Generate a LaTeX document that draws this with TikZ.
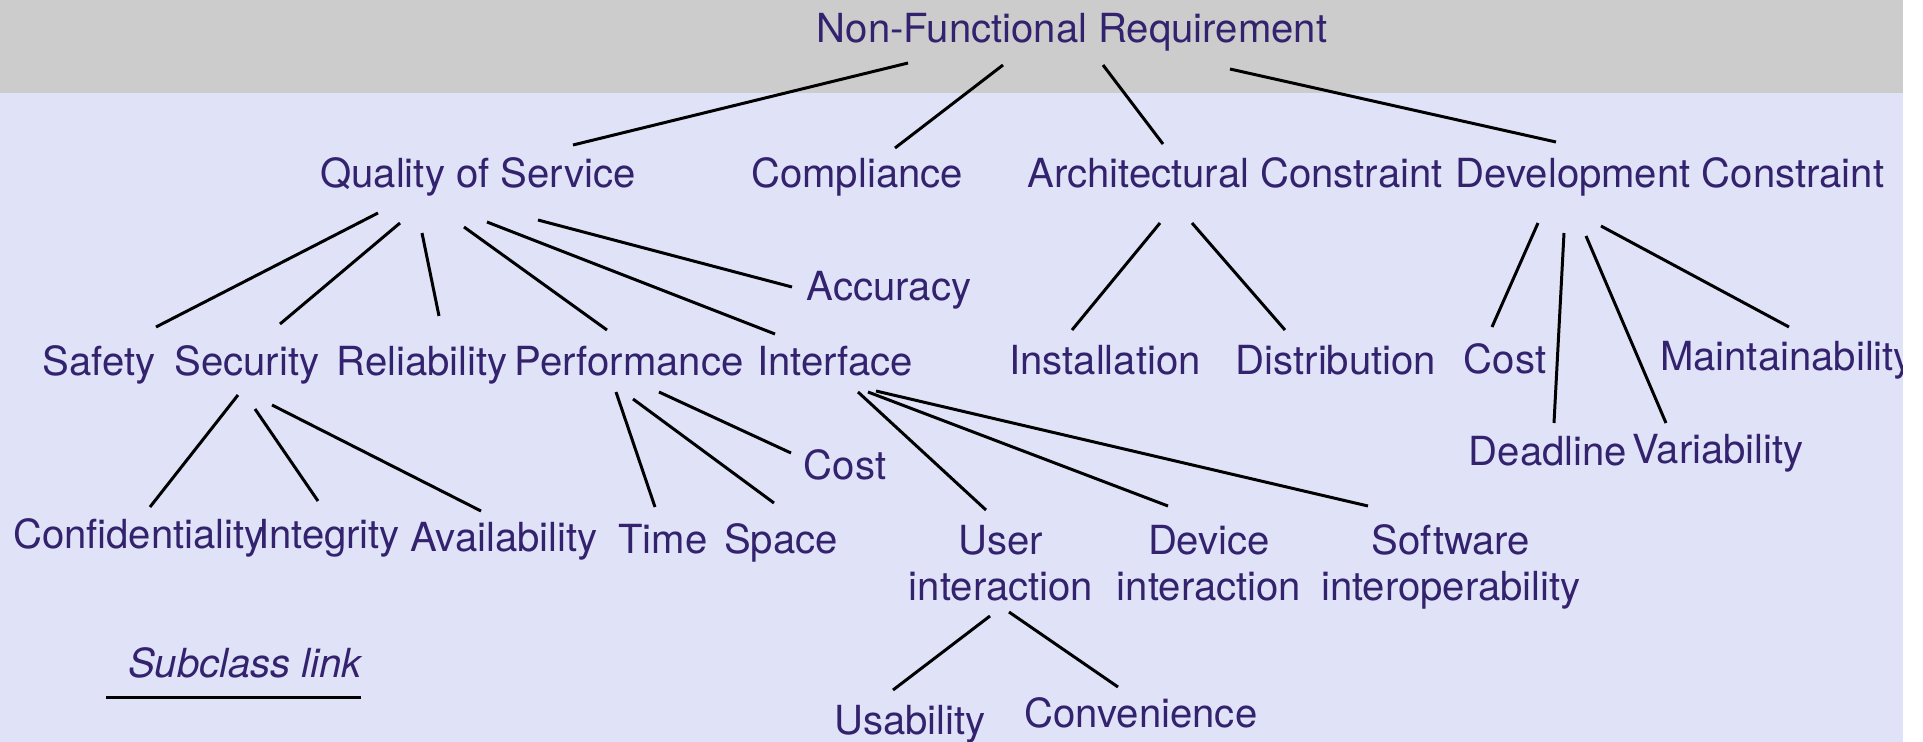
\documentclass[tikz,border=0pt]{standalone}
\usepackage{fontspec}
\setmainfont{TeX Gyre Heros}
\usepackage{xcolor}
\usepackage{tikz}

\definecolor{labelink}{RGB}{51,34,110}
\definecolor{bandgray}{RGB}{204,204,204}
\definecolor{paneblue}{RGB}{224,227,247}

\begin{document}
\begin{tikzpicture}[x=0.01cm,y=-0.01cm,
    req node/.style={anchor=base,inner sep=0pt,text=labelink,align=center,
      font=\fontsize{11.4}{12.8}\selectfont},
    link/.style={draw=black,line width=0.85pt}]
  \useasboundingbox (0,0) rectangle (1923,742);
  \fill[bandgray] (0,0) rectangle (1903,93);
  \fill[paneblue] (0,93) rectangle (1903,742);

  % top and first level
  \node[req node] (nfr) at (1072,42) {Non-Functional Requirement};
  \node[req node] (qos) at (478,187) {Quality of Service};
  \node[req node] (compliance) at (857,187) {Compliance};
  \node[req node] (arch) at (1235,187) {Architectural Constraint};
  \node[req node] (dev) at (1670,187) {Development Constraint};

  % second level
  \node[req node] (accuracy) at (889,300) {Accuracy};
  \node[req node] (safety) at (99,375) {Safety};
  \node[req node] (security) at (247,375) {Security};
  \node[req node] (reliability) at (422,375) {Reliability};
  \node[req node] (performance) at (629,375) {Performance};
  \node[req node] (interface) at (835,375) {Interface};
  \node[req node] (installation) at (1105,374) {Installation};
  \node[req node] (distribution) at (1336,374) {Distribution};
  \node[req node] (devcost) at (1505,373) {Cost};
  \node[req node] (maintainability) at (1787,370) {Maintainability};
  \node[req node] (deadline) at (1548,465) {Deadline};
  \node[req node] (variability) at (1718,463) {Variability};

  % third level (two-line nodes sit on their last line)
  \node[req node] (perfcost) at (845,479) {Cost};
  \node[req node] (confidentiality) at (139,548) {Confidentiality};
  \node[req node] (integrity) at (329,548) {Integrity};
  \node[req node] (availability) at (504,551) {Availability};
  \node[req node] (time) at (663,553) {Time};
  \node[req node] (space) at (781,553) {Space};
  \node[req node] (user) at (1001,600) {User\\interaction};
  \node[req node] (device) at (1209,600) {Device\\interaction};
  \node[req node] (software) at (1451,600) {Software\\interoperability};
  \node[req node] (usability) at (910,734) {Usability};
  \node[req node] (convenience) at (1141,727) {Convenience};

  % legend
  \node[req node] (subclass) at (245,677) {\itshape Subclass link};

  \path[link]
    ([shift={(-164,21)}]nfr.base) edge ([shift={(95,-42)}]qos.base)
    ([shift={(-69,23)}]nfr.base) edge ([shift={(38,-39)}]compliance.base)
    ([shift={(31,23)}]nfr.base) edge ([shift={(-72,-43)}]arch.base)
    ([shift={(158,27)}]nfr.base) edge ([shift={(-114,-45)}]dev.base)
    ([shift={(-100,26)}]qos.base) edge ([shift={(57,-48)}]safety.base)
    ([shift={(-78,36)}]qos.base) edge ([shift={(33,-51)}]security.base)
    ([shift={(-56,46)}]qos.base) edge ([shift={(17,-59)}]reliability.base)
    ([shift={(-14,40)}]qos.base) edge ([shift={(-22,-45)}]performance.base)
    ([shift={(9,35)}]qos.base) edge ([shift={(-60,-41)}]interface.base)
    ([shift={(60,33)}]qos.base) edge ([shift={(-97,-13)}]accuracy.base)
    ([shift={(-75,36)}]arch.base) edge ([shift={(-33,-44)}]installation.base)
    ([shift={(-43,36)}]arch.base) edge ([shift={(-51,-44)}]distribution.base)
    ([shift={(-132,36)}]dev.base) edge ([shift={(-13,-46)}]devcost.base)
    ([shift={(-106,46)}]dev.base) edge ([shift={(6,-42)}]deadline.base)
    ([shift={(-84,49)}]dev.base) edge ([shift={(-52,-40)}]variability.base)
    ([shift={(-69,39)}]dev.base) edge ([shift={(2,-43)}]maintainability.base)
    ([shift={(-9,20)}]security.base) edge ([shift={(11,-41)}]confidentiality.base)
    ([shift={(8,34)}]security.base) edge ([shift={(-11,-47)}]integrity.base)
    ([shift={(25,30)}]security.base) edge ([shift={(-23,-40)}]availability.base)
    ([shift={(-13,17)}]performance.base) edge ([shift={(-8,-46)}]time.base)
    ([shift={(4,24)}]performance.base) edge ([shift={(-7,-50)}]space.base)
    ([shift={(30,17)}]performance.base) edge ([shift={(-54,-26)}]perfcost.base)
    ([shift={(23,17)}]interface.base) edge ([shift={(-15,-90)}]user.base)
    ([shift={(33,17)}]interface.base) edge ([shift={(-41,-94)}]device.base)
    ([shift={(41,16)}]interface.base) edge ([shift={(-83,-94)}]software.base)
    ([shift={(-11,16)}]user.base) edge ([shift={(-17,-44)}]usability.base)
    ([shift={(8,12)}]user.base) edge ([shift={(-23,-40)}]convenience.base)
    ([shift={(-139,20)}]subclass.base) edge ([shift={(116,20)}]subclass.base);

  % strip on the right
  \fill[white] (1903,0) rectangle (1923,742);
\end{tikzpicture}
\end{document}
